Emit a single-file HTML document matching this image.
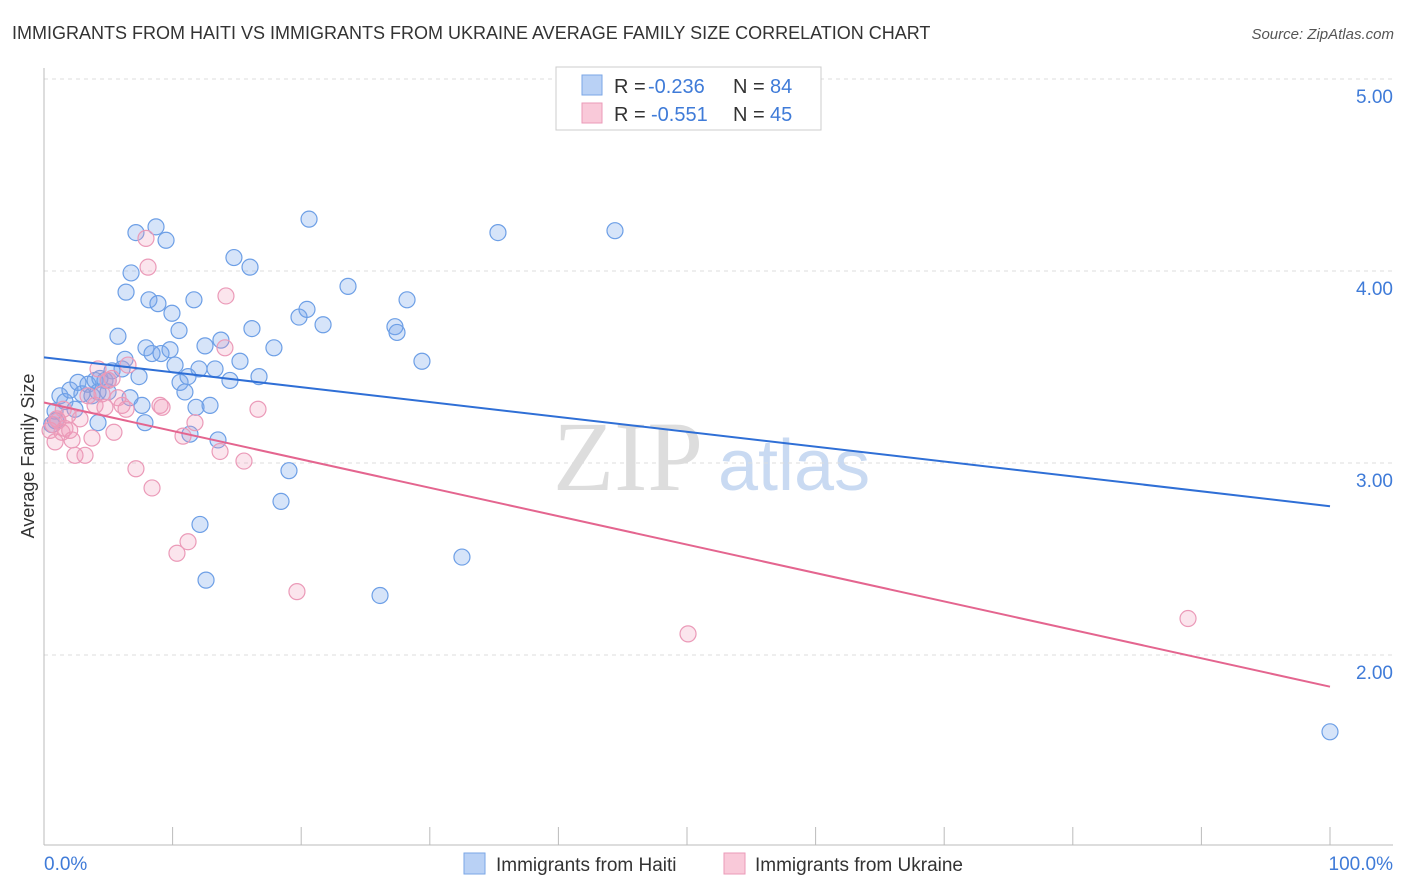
<!DOCTYPE html>
<html><head><meta charset="utf-8">
<style>
body{margin:0;background:#fff;font-family:"Liberation Sans",sans-serif;}
svg{display:block}
</style></head>
<body>
<svg id="chart" width="1406" height="892" xmlns="http://www.w3.org/2000/svg">
<text x="12" y="39" font-size="18" fill="#333">IMMIGRANTS FROM HAITI VS IMMIGRANTS FROM UKRAINE AVERAGE FAMILY SIZE CORRELATION CHART</text>
<text x="1394" y="39" font-size="15" fill="#555" font-style="italic" text-anchor="end">Source: ZipAtlas.com</text>
<text x="553" y="490" font-size="100" fill="#ddd" font-family="Liberation Serif,serif">ZIP</text>
<text x="718" y="490" font-size="72" fill="#c9daf2">atlas</text>
<text transform="translate(34,456) rotate(-90)" font-size="18" fill="#333" text-anchor="middle">Average Family Size</text>
<g id="grid"></g><g id="axes"></g><g id="marks"></g>
<g>
<rect x="556" y="67" width="265" height="63" fill="#fff" stroke="#ccc"/>
<rect x="582" y="75" width="20" height="20" fill="#b9d1f5" stroke="#7aa6e6"/>
<rect x="582" y="103" width="20" height="20" fill="#f9c9d9" stroke="#eb9ab8"/>
<text x="614" y="93" font-size="20" fill="#333">R =</text>
<text x="648" y="93" font-size="20" fill="#3f7bd8">-0.236</text>
<text x="733" y="93" font-size="20" fill="#333">N =</text>
<text x="770" y="93" font-size="20" fill="#3f7bd8">84</text>
<text x="614" y="121" font-size="20" fill="#333">R =</text>
<text x="651" y="121" font-size="20" fill="#3f7bd8">-0.551</text>
<text x="733" y="121" font-size="20" fill="#333">N =</text>
<text x="770" y="121" font-size="20" fill="#3f7bd8">45</text>
</g>
<g>
<rect x="464" y="853" width="21" height="21" fill="#b9d1f5" stroke="#7aa6e6"/>
<text x="496" y="871" font-size="19" fill="#333">Immigrants from Haiti</text>
<rect x="724" y="853" width="21" height="21" fill="#f9c9d9" stroke="#eb9ab8"/>
<text x="755" y="871" font-size="19" fill="#333">Immigrants from Ukraine</text>
</g>
</svg>
<script>
const yTicks=[2,3,4,5];
const yTickLabels=["2.00","3.00","4.00","5.00"];
const xTickValues=[0,10,20,30,40,50,60,70,80,90,100];
const haitiX=[0.86,1.24,1.63,2.02,2.41,2.64,2.95,3.42,3.73,3.97,4.20,4.35,4.74,4.98,5.29,5.75,6.07,6.30,6.38,6.69,6.77,7.15,7.39,7.62,7.85,7.93,8.16,8.40,8.71,8.86,9.10,9.49,9.80,9.95,10.19,10.50,10.58,10.96,11.20,11.35,11.66,11.82,12.05,12.13,12.52,12.60,12.91,13.30,13.53,13.76,14.46,14.77,15.24,16.02,16.17,16.72,17.88,18.43,19.05,19.83,20.45,20.61,21.70,23.64,26.13,27.29,27.45,28.23,29.39,32.50,35.30,44.40,100,0.6,0.9,4.2,5.0];
const haitiY=[3.27,3.35,3.32,3.38,3.28,3.42,3.36,3.41,3.35,3.43,3.21,3.44,3.43,3.37,3.48,3.66,3.49,3.54,3.89,3.34,3.99,4.20,3.45,3.30,3.21,3.60,3.85,3.57,4.23,3.83,3.57,4.16,3.59,3.78,3.51,3.69,3.42,3.37,3.45,3.15,3.85,3.29,3.49,2.68,3.61,2.39,3.30,3.49,3.12,3.64,3.43,4.07,3.53,4.02,3.70,3.45,3.60,2.80,2.96,3.76,3.80,4.27,3.72,3.92,2.31,3.71,3.68,3.85,3.53,2.51,4.20,4.21,1.60,3.20,3.22,3.37,3.43];
const ukraineX=[0.47,0.70,0.86,1.09,1.40,1.63,1.87,2.18,2.41,2.80,3.19,3.42,3.73,3.97,4.20,4.51,4.74,4.98,5.29,5.44,5.75,6.07,6.38,6.53,7.15,7.93,8.09,8.40,9.02,9.18,10.34,10.81,11.20,11.74,13.69,14.07,14.15,15.55,16.64,19.67,50.08,88.96,1.0,1.5,2.0];
const ukraineY=[3.17,3.20,3.11,3.22,3.16,3.18,3.25,3.12,3.04,3.23,3.04,3.35,3.13,3.30,3.49,3.36,3.29,3.43,3.44,3.16,3.34,3.30,3.28,3.51,2.97,4.17,4.02,2.87,3.30,3.29,2.53,3.14,2.59,3.21,3.06,3.60,3.87,3.01,3.28,2.33,2.11,2.19,3.23,3.28,3.17];
const haitiTrend=[3.55,2.775];
const ukraineTrend=[3.315,1.835];
const NS="http://www.w3.org/2000/svg";
const xS=v=>44+v*12.86;
const yS=v=>463-(v-3)*192;
function mk(tag,attrs,parent){const e=document.createElementNS(NS,tag);for(const k in attrs)e.setAttribute(k,attrs[k]);parent.appendChild(e);return e;}
const grid=document.getElementById('grid'),axes=document.getElementById('axes'),marks=document.getElementById('marks');
yTicks.forEach((t,i)=>{
 const l=mk('line',{x1:44,x2:1393,y1:yS(t),y2:yS(t),stroke:'#ddd','stroke-dasharray':'4,4'},grid);
 
 
 const tx=mk('text',{x:1393,y:yS(t)+24,'font-size':19,fill:'#3f7bd8','text-anchor':'end'},axes);
 tx.textContent=yTickLabels[i];
 
 
});
const yax=mk('line',{x1:44,x2:44,y1:68,y2:845,stroke:'#bbb'},axes);


const xax=mk('line',{x1:44,x2:1393,y1:845,y2:845,stroke:'#bbb'},axes);


xTickValues.forEach(t=>{
 const l=mk('line',{x1:xS(t),x2:xS(t),y1:827,y2:845,stroke:'#bbb'},axes);
 
 
});
const xl0=mk('text',{x:44,y:870,'font-size':19,fill:'#3f7bd8'},axes);xl0.textContent='0.0%';


const xl1=mk('text',{x:1393,y:870,'font-size':19,fill:'#3f7bd8','text-anchor':'end'},axes);xl1.textContent='100.0%';


haitiX.forEach((x,i)=>{
 const c=mk('circle',{cx:xS(x),cy:yS(haitiY[i]),r:8,fill:'rgba(120,165,235,0.3)',stroke:'#6d9fe6','stroke-width':1.2},marks);
 
 
});
ukraineX.forEach((x,i)=>{
 const c=mk('circle',{cx:xS(x),cy:yS(ukraineY[i]),r:8,fill:'rgba(240,150,185,0.25)',stroke:'#eb9ab8','stroke-width':1.2},marks);
 
 
});
const tb=mk('line',{x1:xS(0),y1:yS(haitiTrend[0]),x2:xS(100),y2:yS(haitiTrend[1]),stroke:'#2f6fd6','stroke-width':2},marks);


const tp=mk('line',{x1:xS(0),y1:yS(ukraineTrend[0]),x2:xS(100),y2:yS(ukraineTrend[1]),stroke:'#e4658f','stroke-width':2},marks);


</script>
</body></html>
